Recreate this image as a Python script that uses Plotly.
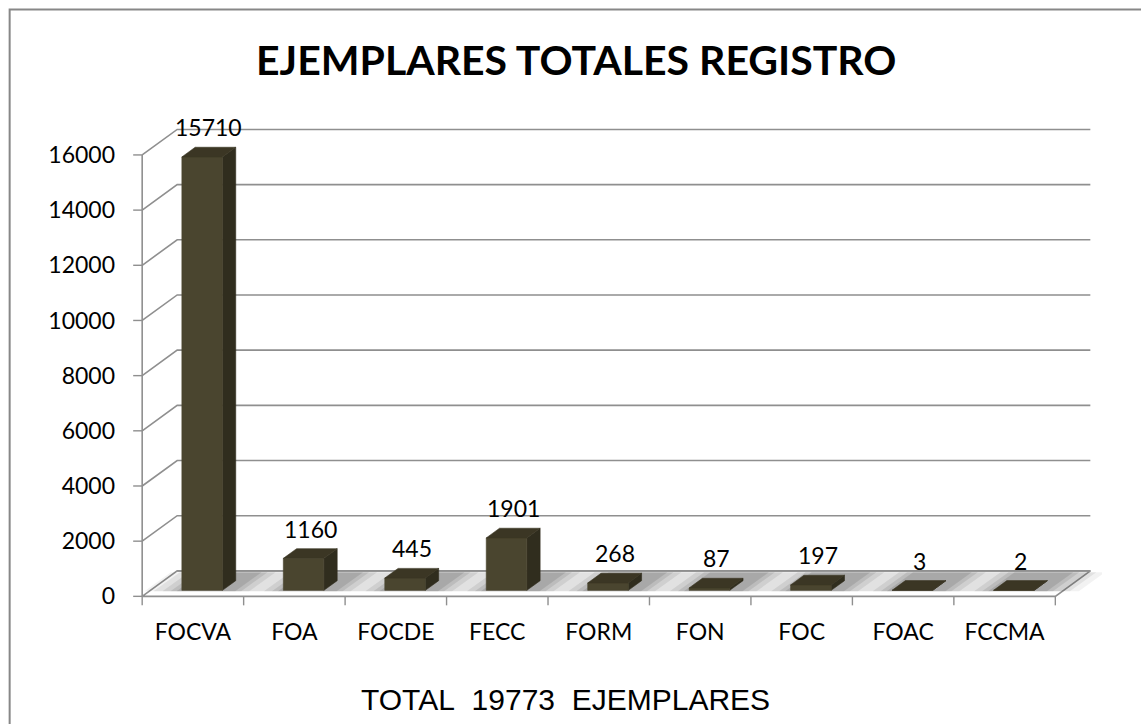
import plotly.graph_objects as go

# ---------------- data ----------------
categories = ["FOCVA", "FOA", "FOCDE", "FECC", "FORM", "FON", "FOC", "FOAC", "FCCMA"]
values = [15710, 1160, 445, 1901, 268, 87, 197, 3, 2]
y_ticks = [0, 2000, 4000, 6000, 8000, 10000, 12000, 14000, 16000]
title_text = "EJEMPLARES TOTALES REGISTRO"
footer_text = "TOTAL\u00a0\u00a019773\u00a0\u00a0EJEMPLARES"

# ---------------- geometry / style ----------------
W, H = 1141, 724
PX0, PXC = 142.0, 101.44      # px of category 0 front edge, px per category
PY0, PYV = 596.5, 0.0276      # px of value 0 at front, px per value unit
DX = 35.0 / PXC               # depth offset in category units
DY = 25.5 / PYV               # depth offset in value units
XMIN, XMAX = -0.12, 9.46
YMIN, YMAX = -350, 18100

ml = PX0 + XMIN * PXC
mr = W - (PX0 + XMAX * PXC)
mb = H - (PY0 - YMIN * PYV)
mt = PY0 - YMAX * PYV
PW = W - ml - mr
PH = H - mt - mb


def paper_x(px):
    return (px - ml) / PW


def paper_y(py):
    return (H - mb - py) / PH


def P(x, v, z):
    return x + z * DX, v + z * DY


GRID = "#8f8f8f"
FRONT = "#4a452f"
SIDE = "#302d1e"
TOP = "#3b3624"
FONT = "Lato, 'Open Sans', sans-serif"

fig = go.Figure()


def poly_trace(polys, color, line_color=None, line_width=0.6, fill=True):
    xs, ys = [], []
    for poly in polys:
        for (x, v, z) in poly:
            px, py = P(x, v, z)
            xs.append(px)
            ys.append(py)
        if fill:
            px, py = P(*poly[0])
            xs.append(px)
            ys.append(py)
        xs.append(None)
        ys.append(None)
    fig.add_trace(go.Scatter(
        x=xs, y=ys, mode="lines",
        fill="toself" if fill else None,
        fillcolor=color if fill else None,
        line=dict(color=line_color or color, width=line_width),
        hoverinfo="skip", showlegend=False,
    ))


n = len(categories)

# floor
poly_trace([[(0, 0, 0), (n, 0, 0), (n, 0, 1), (0, 0, 1)]], "#ffffff", GRID, 1.6)

# bar geometry
BX0, BX1 = 0.31, 0.71
ZF, ZB = 0.235, 0.615

# soft floor shadows
for ext_px, alpha in [(36, 0.05), (27, 0.065), (18, 0.08), (10, 0.09), (4, 0.1)]:
    e = ext_px / PXC
    shadow = []
    for i in range(n):
        x0, x1 = i + BX0 - e, i + BX1 + e + 0.1
        z0, z1 = ZF - 0.04, 0.95
        shadow.append([(x0, 0, z0), (x1, 0, z0), (x1, 0, z1), (x0, 0, z1)])
    poly_trace(shadow, "rgba(0,0,0,%.3f)" % alpha, "rgba(0,0,0,0)", 0)

# gridlines (front axis -> back wall)
grid_polys = [[(0, v, 0), (0, v, 1), (n, v, 1)] for v in y_ticks[1:]]
poly_trace(grid_polys, None, GRID, 1.6, fill=False)
# floor back edge again on top of shadows
poly_trace([[(0, 0, 1), (n, 0, 1)]], None, GRID, 1.6, fill=False)

# vertical axis line
poly_trace([[(0, y_ticks[0], 0), (0, y_ticks[-1], 0)]], None, GRID, 1.6, fill=False)

# y tick marks
tick_dx = 9.0 / PXC
poly_trace([[(-tick_dx, v, 0), (0, v, 0)] for v in y_ticks], None, GRID, 1.4, fill=False)

# floor tick marks at category boundaries
tick_dv = 9.0 / PYV
poly_trace([[(i, 0, 0), (i, -tick_dv, 0)] for i in range(n + 1)], None, GRID, 1.4, fill=False)

sides, tops, fronts = [], [], []
for i, v in enumerate(values):
    x0, x1 = i + BX0, i + BX1
    fronts.append([(x0, 0, ZF), (x1, 0, ZF), (x1, v, ZF), (x0, v, ZF)])
    sides.append([(x1, 0, ZF), (x1, 0, ZB), (x1, v, ZB), (x1, v, ZF)])
    tops.append([(x0, v, ZF), (x1, v, ZF), (x1, v, ZB), (x0, v, ZB)])
poly_trace(sides, SIDE)
poly_trace(fronts, FRONT)
poly_trace(tops, TOP)

annotations = []
# data labels above each bar
for i, v in enumerate(values):
    cx = i + (BX0 + BX1) / 2 + DX * (ZF + ZB) / 2
    cy = v + DY * ZB
    annotations.append(dict(
        x=cx, y=cy, xref="x", yref="y", text=str(v), showarrow=False,
        xanchor="center", yanchor="bottom", yshift=4,
        font=dict(family=FONT, size=23, color="#000000"),
    ))

# title
annotations.append(dict(
    x=paper_x(575.5), y=paper_y(59.5), xref="paper", yref="paper",
    text="<b>%s</b>" % title_text, showarrow=False,
    xanchor="center", yanchor="middle",
    font=dict(family=FONT, size=41, color="#000000"),
))
# footer
annotations.append(dict(
    x=paper_x(565), y=paper_y(699.5), xref="paper", yref="paper",
    text=footer_text, showarrow=False,
    xanchor="center", yanchor="middle",
    font=dict(family="'Liberation Sans', Arial, sans-serif", size=30, color="#000000"),
))

shapes = [dict(
    type="rect", xref="paper", yref="paper",
    x0=paper_x(9.5), x1=paper_x(1200), y0=paper_y(800), y1=paper_y(9.5),
    line=dict(color="#878787", width=2), fillcolor="rgba(0,0,0,0)", layer="above",
)]

fig.update_layout(
    width=W, height=H,
    margin=dict(l=ml, r=mr, t=mt, b=mb, pad=0),
    paper_bgcolor="#ffffff", plot_bgcolor="#ffffff",
    showlegend=False,
    annotations=annotations,
    shapes=shapes,
    xaxis=dict(
        range=[XMIN, XMAX], showgrid=False, zeroline=False, showline=False,
        tickvals=[i + 0.5 for i in range(n)], ticktext=categories, ticks="",
        tickfont=dict(family=FONT, size=23, color="#000000"),
        ticklabelstandoff=10, fixedrange=True,
    ),
    yaxis=dict(
        range=[YMIN, YMAX], showgrid=False, zeroline=False, showline=False,
        tickvals=y_ticks, ticktext=[str(t) for t in y_ticks], ticks="",
        tickfont=dict(family=FONT, size=23, color="#000000"),
        ticklabelstandoff=14, fixedrange=True,
    ),
)

fig.write_html(
    "out.html",
    config={"displayModeBar": False},
    post_script="document.body.style.margin='0px';",
)
